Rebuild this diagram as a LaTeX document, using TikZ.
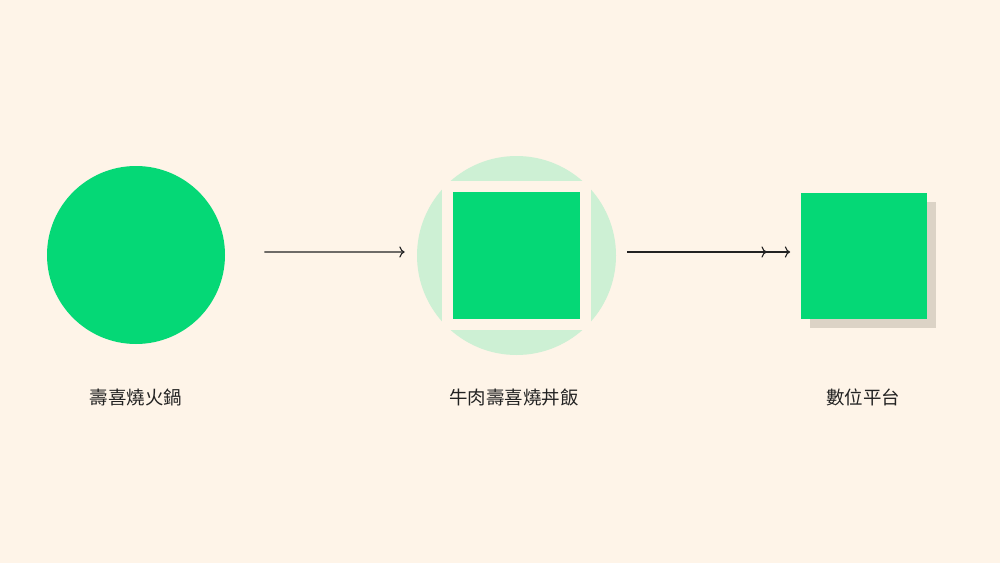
\documentclass[tikz,border=0pt]{standalone}
\usepackage{fontspec}
\setmainfont{Noto Sans CJK TC}
\usetikzlibrary{arrows.meta,shadows}
\definecolor{paper}{HTML}{FEF4E8}
\definecolor{leaf}{HTML}{05D876}
\definecolor{paleleaf}{HTML}{CDF0D4}
\definecolor{shade}{HTML}{DCD3C6}
\definecolor{ink}{HTML}{222222}
\begin{document}
\begin{tikzpicture}[
	dish/.style={circle, minimum size=3.56cm, inner sep=0pt, fill=leaf},
	plate/.style={circle, minimum size=3.98cm, inner sep=0pt, fill=paleleaf},
	frame/.style={rectangle, minimum size=2.98cm, inner sep=0pt, fill=paper},
	tile/.style={rectangle, minimum size=2.54cm, inner sep=0pt, fill=leaf},
	label/.style={font=\fontsize{10.5}{12}\selectfont, text=ink},
	flow/.style={draw=ink, line width=0.65pt}]
	\fill[paper] (0,0) rectangle (20,-11.26);
	\node[dish] (pot) at (2.72,-5.10) {};
	\node[plate] (bowl) at (10.33,-5.11) {};
	\node[frame] (rim) at (bowl) {};
	\node[tile] (beef) at (bowl) {};
	\node[tile, minimum size=2.52cm, drop shadow={shadow xshift=0.18cm, shadow yshift=-0.18cm, fill=shade, opacity=1}] (app) at (17.27,-5.12) {};
	\node[label] (potname) at (2.72,-7.94) {壽喜燒火鍋};
	\node[label] (bowlname) at (10.28,-7.94) {牛肉壽喜燒丼飯};
	\node[label] (appname) at (17.26,-7.94) {數位平台};
	\draw[flow, -{To}] ([xshift=0.78cm, yshift=0.06cm]pot.east) -- ([xshift=-0.24cm, yshift=0.07cm]bowl.west);
	\draw[flow, -{To[sep=0.36cm]To}] ([xshift=0.22cm, yshift=0.07cm]bowl.east) -- ([xshift=-0.2cm, yshift=0.08cm]app.west);
\end{tikzpicture}
\end{document}
